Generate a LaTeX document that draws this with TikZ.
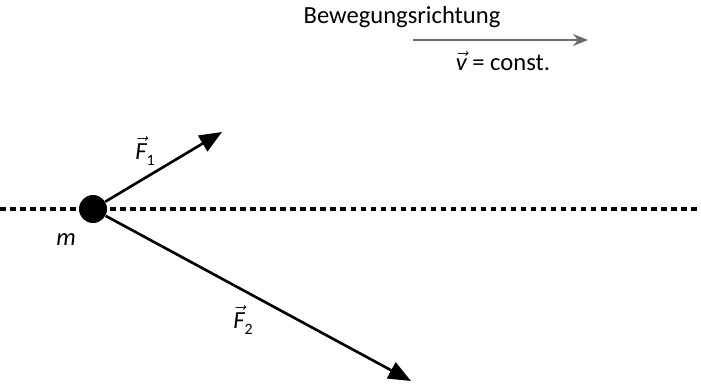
\documentclass[tikz,border=0pt]{standalone}
\usepackage{fontspec}
\setmainfont{Carlito}
\usetikzlibrary{positioning,arrows.meta}
\newcommand{\itvec}[1]{$\vec{\mbox{\itshape #1}}$}
\newcommand{\lowidx}[1]{\raisebox{-0.45ex}{\fontsize{9}{9}\selectfont #1}}
\tikzset{
  force/.style={-{Triangle[length=4.5mm,width=3.6mm]}, line width=1.5pt},
  motion/.style={-{Stealth[length=3mm,width=2.4mm]}, line width=1pt, gray!85!black},
  axisline/.style={line width=1.8pt, dash pattern=on 3.2pt off 2.5pt},
  mass/.style={circle, fill=black, minimum size=0.56cm, inner sep=0pt},
  lbl/.style={font=\fontsize{14}{17}\selectfont, inner sep=1pt},
}
\begin{document}
\begin{tikzpicture}[x=0.02cm, y=-0.02cm]
  \useasboundingbox (0,0) rectangle (701,383);
  % Line of motion
  \coordinate (axL) at (0,209);
  \coordinate (axR) at (701,209);
  \draw[axisline] (axL) -- (axR);
  \node[mass] (m) at (93,209) {};
  \node[lbl] (mlabel) at (66,240) {\itshape m};

  % Forces
  \coordinate (F1tip) at (222,132);
  \coordinate (F2tip) at (411,381);
  \draw[force] (m) -- (F1tip);
  \draw[force] (m) -- (F2tip);
  \node[lbl] (F1label) at (145,151) {\itvec{F}\lowidx{1}};
  \node[lbl] (F2label) at (243,320) {\itvec{F}\lowidx{2}};

  % Direction of motion
  \node[lbl] (dir) at (402,17) {Bewegungsrichtung};
  \coordinate (vL) at (413,40);
  \coordinate (vR) at (588,40);
  \draw[motion] (vL) -- (vR);
  \node[lbl] (vlabel) at (503,61) {\itvec{v} = const.};
\end{tikzpicture}
\end{document}
